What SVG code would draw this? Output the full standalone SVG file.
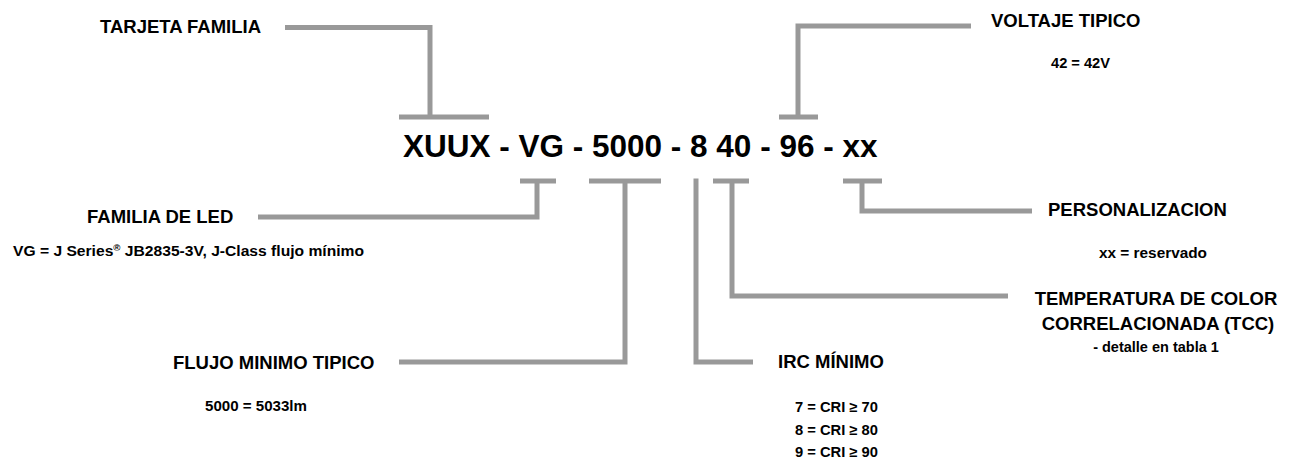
<svg xmlns="http://www.w3.org/2000/svg" width="1289" height="459" viewBox="0 0 1289 459">
<style>
.h{font-family:"Liberation Sans",Arial,sans-serif;font-weight:bold;font-size:18.5px;fill:#000}
.s{font-family:"Liberation Sans",Arial,sans-serif;font-weight:bold;font-size:14.5px;fill:#000}
.code{font-family:"Liberation Sans",Arial,sans-serif;font-weight:bold;font-size:31.5px;fill:#000}
.c{fill:none;stroke:#999;stroke-width:5;stroke-linejoin:miter;stroke-linecap:butt}
</style>
<rect width="1289" height="459" fill="#fff"/>
<g id="connectors">
<path class="c" d="M285 27.5 H430 V117"/>
<path class="c" d="M399 117 H489"/>
<path class="c" d="M971 26 H798 V117"/>
<path class="c" d="M779 117 H818"/>
<path class="c" d="M258 217 H537 V181"/>
<path class="c" d="M520 181 H556"/>
<path class="c" d="M399 362 H625 V181"/>
<path class="c" d="M589 181 H661"/>
<path class="c" d="M696 178.5 V362 H753"/>
<path class="c" d="M1008 296 H732 V181"/>
<path class="c" d="M713 181 H749"/>
<path class="c" d="M1032 211 H862 V181"/>
<path class="c" d="M843 181 H882"/>
</g>
<g id="code">
<text class="code" x="403" y="157">XUUX - VG - 5000 - 8 40 - 96 - xx</text>
</g>
<g id="node-tarjeta-familia">
<text class="h" x="100" y="33">TARJETA FAMILIA</text>
</g>
<g id="node-voltaje-tipico">
<text class="h" x="991" y="27">VOLTAJE TIPICO</text>
<text class="s" x="1051" y="68" textLength="59" lengthAdjust="spacingAndGlyphs">42 = 42V</text>
</g>
<g id="node-familia-de-led">
<text class="h" x="87" y="223">FAMILIA DE LED</text>
<text class="s" x="13" y="256" textLength="351" lengthAdjust="spacingAndGlyphs">VG = J Series<tspan font-size="9" dy="-5">®</tspan><tspan dy="5"> JB2835-3V, J-Class flujo mínimo</tspan></text>
</g>
<g id="node-personalizacion">
<text class="h" x="1048" y="216">PERSONALIZACION</text>
<text class="s" x="1099" y="258" textLength="108" lengthAdjust="spacingAndGlyphs">xx = reservado</text>
</g>
<g id="node-tcc">
<text class="h" x="1156" y="305" text-anchor="middle">TEMPERATURA DE COLOR</text>
<text class="h" x="1158" y="330" text-anchor="middle">CORRELACIONADA (TCC)</text>
<text class="s" x="1156" y="352" text-anchor="middle">- detalle en tabla 1</text>
</g>
<g id="node-flujo">
<text class="h" x="173" y="369">FLUJO MINIMO TIPICO</text>
<text class="s" x="205" y="411" textLength="102" lengthAdjust="spacingAndGlyphs">5000 = 5033lm</text>
</g>
<g id="node-irc">
<text class="h" x="778" y="368">IRC MÍNIMO</text>
<text class="s" x="795" y="412" textLength="83" lengthAdjust="spacingAndGlyphs">7 = CRI ≥ 70</text>
<text class="s" x="795" y="434.5" textLength="83" lengthAdjust="spacingAndGlyphs">8 = CRI ≥ 80</text>
<text class="s" x="795" y="457" textLength="83" lengthAdjust="spacingAndGlyphs">9 = CRI ≥ 90</text>
</g>
</svg>
